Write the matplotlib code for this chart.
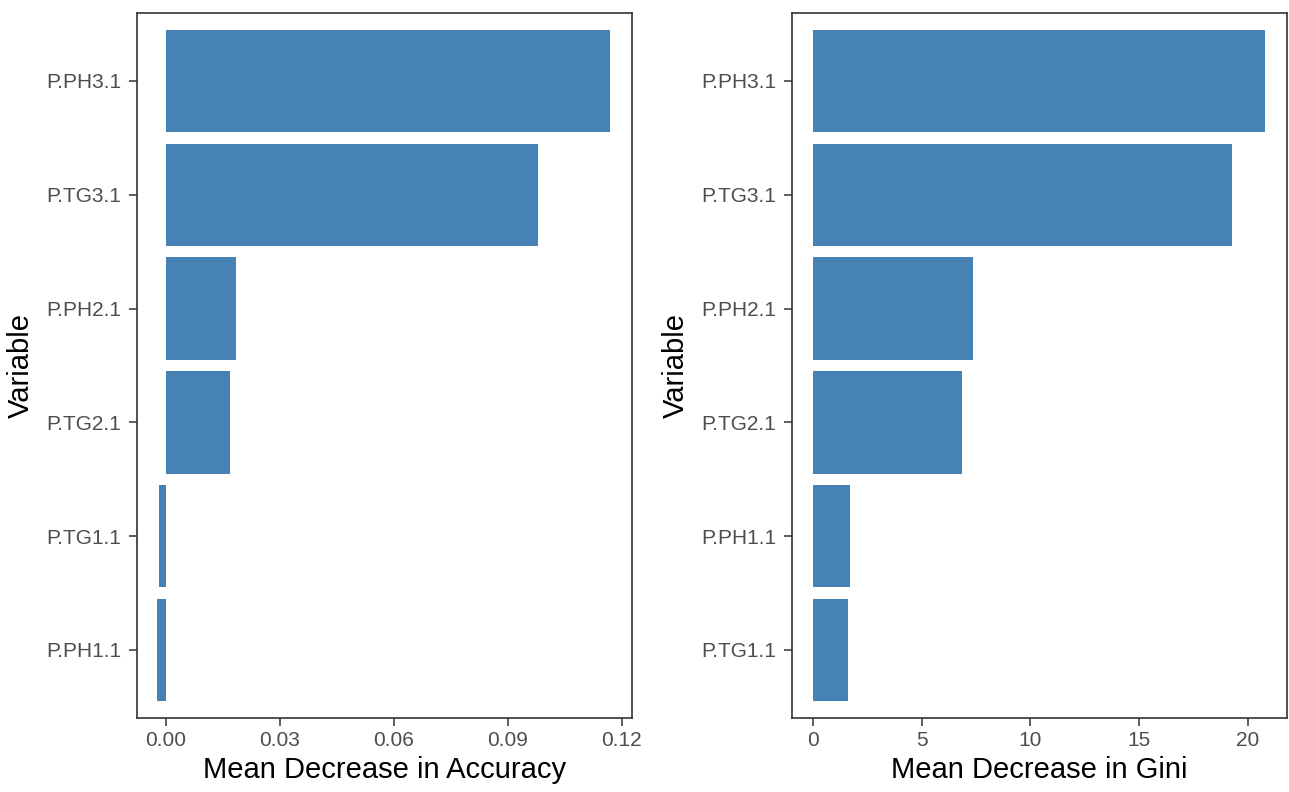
import matplotlib
matplotlib.use('Agg')

import matplotlib.pyplot as plt
import numpy as np

plt.rcParams['font.family'] = ['Liberation Sans', 'DejaVu Sans']

# Importance measures from the random forest, sorted separately per panel (top -> bottom)
acc_vars = ['P.PH3.1', 'P.TG3.1', 'P.PH2.1', 'P.TG2.1', 'P.TG1.1', 'P.PH1.1']
acc_vals = [0.1169, 0.0979, 0.0184, 0.0169, -0.0018, -0.0023]

gini_vars = ['P.PH3.1', 'P.TG3.1', 'P.PH2.1', 'P.TG2.1', 'P.PH1.1', 'P.TG1.1']
gini_vals = [20.80, 19.28, 7.35, 6.87, 1.69, 1.60]

acc_ticks = [0.00, 0.03, 0.06, 0.09, 0.12]
gini_ticks = [0, 5, 10, 15, 20]

bar_color = '#4682B4'
line_color = '#333333'
tick_text = '#4D4D4D'


def draw_panel(ax, names, vals, ticks, tick_fmt, xlabel, xlim):
    # bottom-most category sits at y=1, like a discrete ggplot axis
    pos = np.arange(len(names), 0, -1)
    ax.barh(pos, vals, height=0.9, color=bar_color, edgecolor='none')

    ax.set_xlim(*xlim)
    ax.set_ylim(0.4, len(names) + 0.6)

    ax.set_yticks(pos)
    ax.set_yticklabels(names)
    ax.set_xticks(ticks)
    ax.set_xticklabels([tick_fmt.format(t) for t in ticks])

    ax.set_xlabel(xlabel, fontsize=21, labelpad=4)
    ax.set_ylabel('Variable', fontsize=21, labelpad=8)

    for s in ax.spines.values():
        s.set_color(line_color)
        s.set_linewidth(1.2)
    ax.tick_params(axis='both', colors=line_color, labelcolor=tick_text,
                   labelsize=15, length=5.5, width=1.1, pad=4)
    ax.tick_params(axis='y', pad=6)


fig = plt.figure(figsize=(12.89, 7.92), dpi=100)
ax1 = fig.add_axes([0.1063, 0.0931, 0.3843, 0.8909])
ax2 = fig.add_axes([0.6147, 0.0931, 0.3836, 0.8909])

draw_panel(ax1, acc_vars, acc_vals, acc_ticks, '{:.2f}', 'Mean Decrease in Accuracy',
           (-0.00764, 0.1228))
draw_panel(ax2, gini_vars, gini_vals, gini_ticks, '{:d}', 'Mean Decrease in Gini',
           (-0.94, 21.79))

fig.savefig('out.png', dpi=100)
